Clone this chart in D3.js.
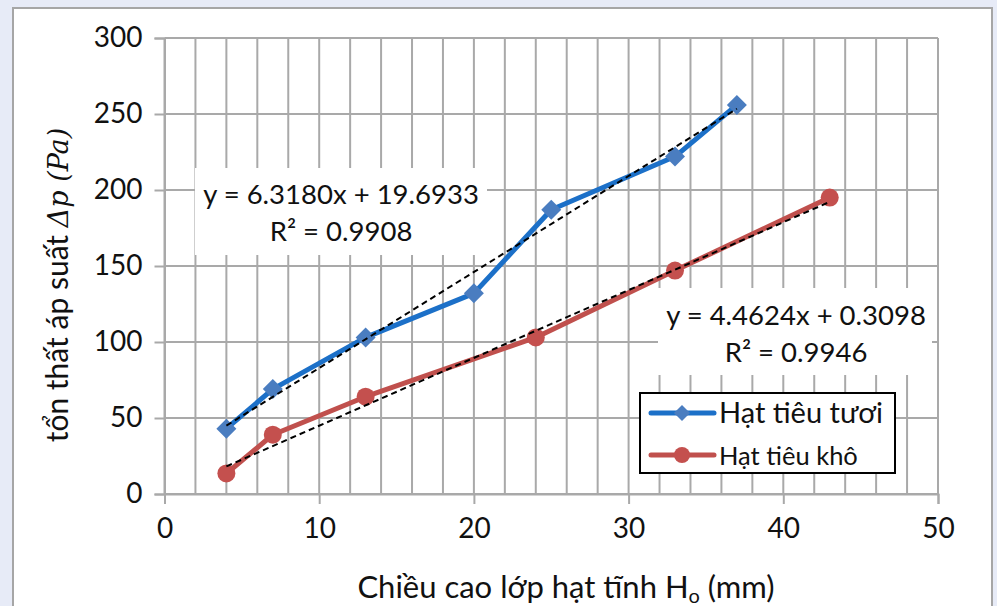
<!DOCTYPE html>
<html><head><meta charset="utf-8">
<script src="https://cdn.jsdelivr.net/npm/d3@7"></script>
<style>
html,body{margin:0;padding:0;background:#E7EBF7;}
svg{display:block;}
</style></head>
<body>
<svg id="c" width="997" height="606"></svg>
<script>
// ---- data ----
const freshX = [4, 7, 13, 20, 25, 33, 37];
const freshY = [43, 69, 103, 132, 187, 222, 256];
const dryX = [4, 7, 13, 24, 33, 43];
const dryY = [13.5, 39, 64, 103, 147, 195];
const freshName = "Hạt tiêu tươi";
const dryName = "Hạt tiêu khô";
const freshFit = [6.3180, 19.6933];
const dryFit = [4.4624, 0.3098];
const freshEq = ["y = 6.3180x + 19.6933", "R² = 0.9908"];
const dryEq = ["y = 4.4624x + 0.3098", "R² = 0.9946"];
const xTicks = [0, 10, 20, 30, 40, 50];
const yTicks = [0, 50, 100, 150, 200, 250, 300];
const xMinor = d3.range(0, 51, 2);

const svg = d3.select("#c");
const FONT = "Lato, 'Open Sans', sans-serif";

// chart frame
svg.append("rect").attr("x", 13).attr("y", 8).attr("width", 979).attr("height", 620)
  .attr("fill", "#fff").attr("stroke", "#A6A6A6").attr("stroke-width", 2);

const x = d3.scaleLinear().domain([0, 50]).range([164.5, 938]);
const y = d3.scaleLinear().domain([0, 300]).range([494, 38]);
const gridC = "#A9A9A9";

// gridlines
svg.append("g").selectAll("line").data(xMinor).join("line")
  .attr("x1", d => x(d)).attr("x2", d => x(d)).attr("y1", y(300)).attr("y2", y(0))
  .attr("stroke", gridC).attr("stroke-width", 2);
svg.append("g").selectAll("line").data(yTicks).join("line")
  .attr("x1", x(0)).attr("x2", x(50)).attr("y1", d => y(d)).attr("y2", d => y(d))
  .attr("stroke", gridC).attr("stroke-width", 2);

// label backgrounds (hide gridlines behind equations)
svg.append("rect").attr("x", 195).attr("y", 168).attr("width", 292).attr("height", 87).attr("fill", "#fff");
svg.append("rect").attr("x", 658).attr("y", 288).attr("width", 274).attr("height", 87).attr("fill", "#fff");

// axes
const yAxis = d3.axisLeft(y).tickValues(yTicks).tickSize(10).tickPadding(12);
const xAxis = d3.axisBottom(x).tickValues(xTicks).tickSize(10).tickPadding(14);
const gy = svg.append("g").attr("transform", `translate(${x(0)},0)`).call(yAxis);
const gx = svg.append("g").attr("transform", `translate(0,${y(0)})`).call(xAxis);
[gx, gy].forEach(g => {
  g.select(".domain").attr("stroke", gridC).attr("stroke-width", 2);
  g.selectAll(".tick line").attr("stroke", gridC).attr("stroke-width", 2);
  g.selectAll(".tick text").attr("font-family", FONT).attr("font-size", 28).attr("fill", "#111");
});

// series lines
const line = d3.line().x(d => x(d[0])).y(d => y(d[1]));
const fresh = freshX.map((v, i) => [v, freshY[i]]);
const dry = dryX.map((v, i) => [v, dryY[i]]);
const blue = "#1C70C8", blueM = "#4A7DC0", red = "#C0504D", redM = "#C4504E";

svg.append("path").datum(dry).attr("d", line).attr("fill", "none")
  .attr("stroke", red).attr("stroke-width", 5).attr("stroke-linejoin", "round");
svg.append("g").selectAll("circle").data(dry).join("circle")
  .attr("cx", d => x(d[0])).attr("cy", d => y(d[1])).attr("r", 9).attr("fill", redM);

svg.append("path").datum(fresh).attr("d", line).attr("fill", "none")
  .attr("stroke", blue).attr("stroke-width", 5).attr("stroke-linejoin", "round");
svg.append("g").selectAll("path").data(fresh).join("path")
  .attr("d", d3.symbol(d3.symbolSquare, 200))
  .attr("transform", d => `translate(${x(d[0])},${y(d[1])}) rotate(45)`).attr("fill", blueM);

// trendlines
function trend(xs, fit) {
  const x0 = d3.min(xs), x1 = d3.max(xs);
  svg.append("line").attr("x1", x(x0)).attr("x2", x(x1))
    .attr("y1", y(fit[0] * x0 + fit[1])).attr("y2", y(fit[0] * x1 + fit[1]))
    .attr("stroke", "#000").attr("stroke-width", 2).attr("stroke-dasharray", "6,4");
}
trend(freshX, freshFit);
trend(dryX, dryFit);

// equations
function eq(lines, cx, cy) {
  svg.append("text").attr("x", cx).attr("y", cy).attr("text-anchor", "middle")
    .attr("font-family", FONT).attr("font-size", 27.5).attr("fill", "#111").text(lines[0]);
  svg.append("text").attr("x", cx).attr("y", cy + 37).attr("text-anchor", "middle")
    .attr("font-family", FONT).attr("font-size", 27.5).attr("fill", "#111").text(lines[1]);
}
eq(freshEq, 341, 204);
eq(dryEq, 796, 325);

// legend
const lg = svg.append("g");
lg.append("rect").attr("x", 640).attr("y", 393).attr("width", 255).attr("height", 80)
  .attr("fill", "#fff").attr("stroke", "#000").attr("stroke-width", 2);
const items = [[freshName, blue, blueM, "d"], [dryName, red, redM, "c"]];
items.forEach((it, i) => {
  const ly = 413 + i * 42;
  lg.append("line").attr("x1", 651).attr("x2", 714).attr("y1", ly).attr("y2", ly)
    .attr("stroke", it[1]).attr("stroke-width", 5).attr("stroke-linecap", "round");
  if (it[3] === "d") lg.append("path").attr("d", d3.symbol(d3.symbolSquare, 130)).attr("transform", `translate(682,${ly}) rotate(45)`).attr("fill", it[2]);
  else lg.append("circle").attr("cx", 682).attr("cy", ly).attr("r", 8).attr("fill", it[2]);
  lg.append("text").attr("x", 719).attr("y", ly + 10).attr("font-family", FONT)
    .attr("font-size", i === 0 ? 29 : 25.5).attr("fill", "#111").text(it[0]);
});

// axis titles
const xt = svg.append("text").attr("x", 566).attr("y", 598).attr("text-anchor", "middle")
  .attr("font-family", FONT).attr("font-size", 31).attr("fill", "#111");
xt.append("tspan").text("Chiều cao lớp hạt tĩnh H");
xt.append("tspan").attr("font-size", 20).attr("dy", 5).text("o");
xt.append("tspan").attr("dy", -5).text(" (mm)");

const yt = svg.append("text").attr("transform", "translate(68,285) rotate(-90)").attr("text-anchor", "middle")
  .attr("font-family", FONT).attr("font-size", 30).attr("fill", "#111");
yt.append("tspan").text("tổn thất áp suất ");
yt.append("tspan").attr("font-family", "'DejaVu Serif', 'Liberation Serif', serif").attr("font-style", "italic").attr("font-size", 27).text("Δp (Pa)");
</script>
</body></html>
